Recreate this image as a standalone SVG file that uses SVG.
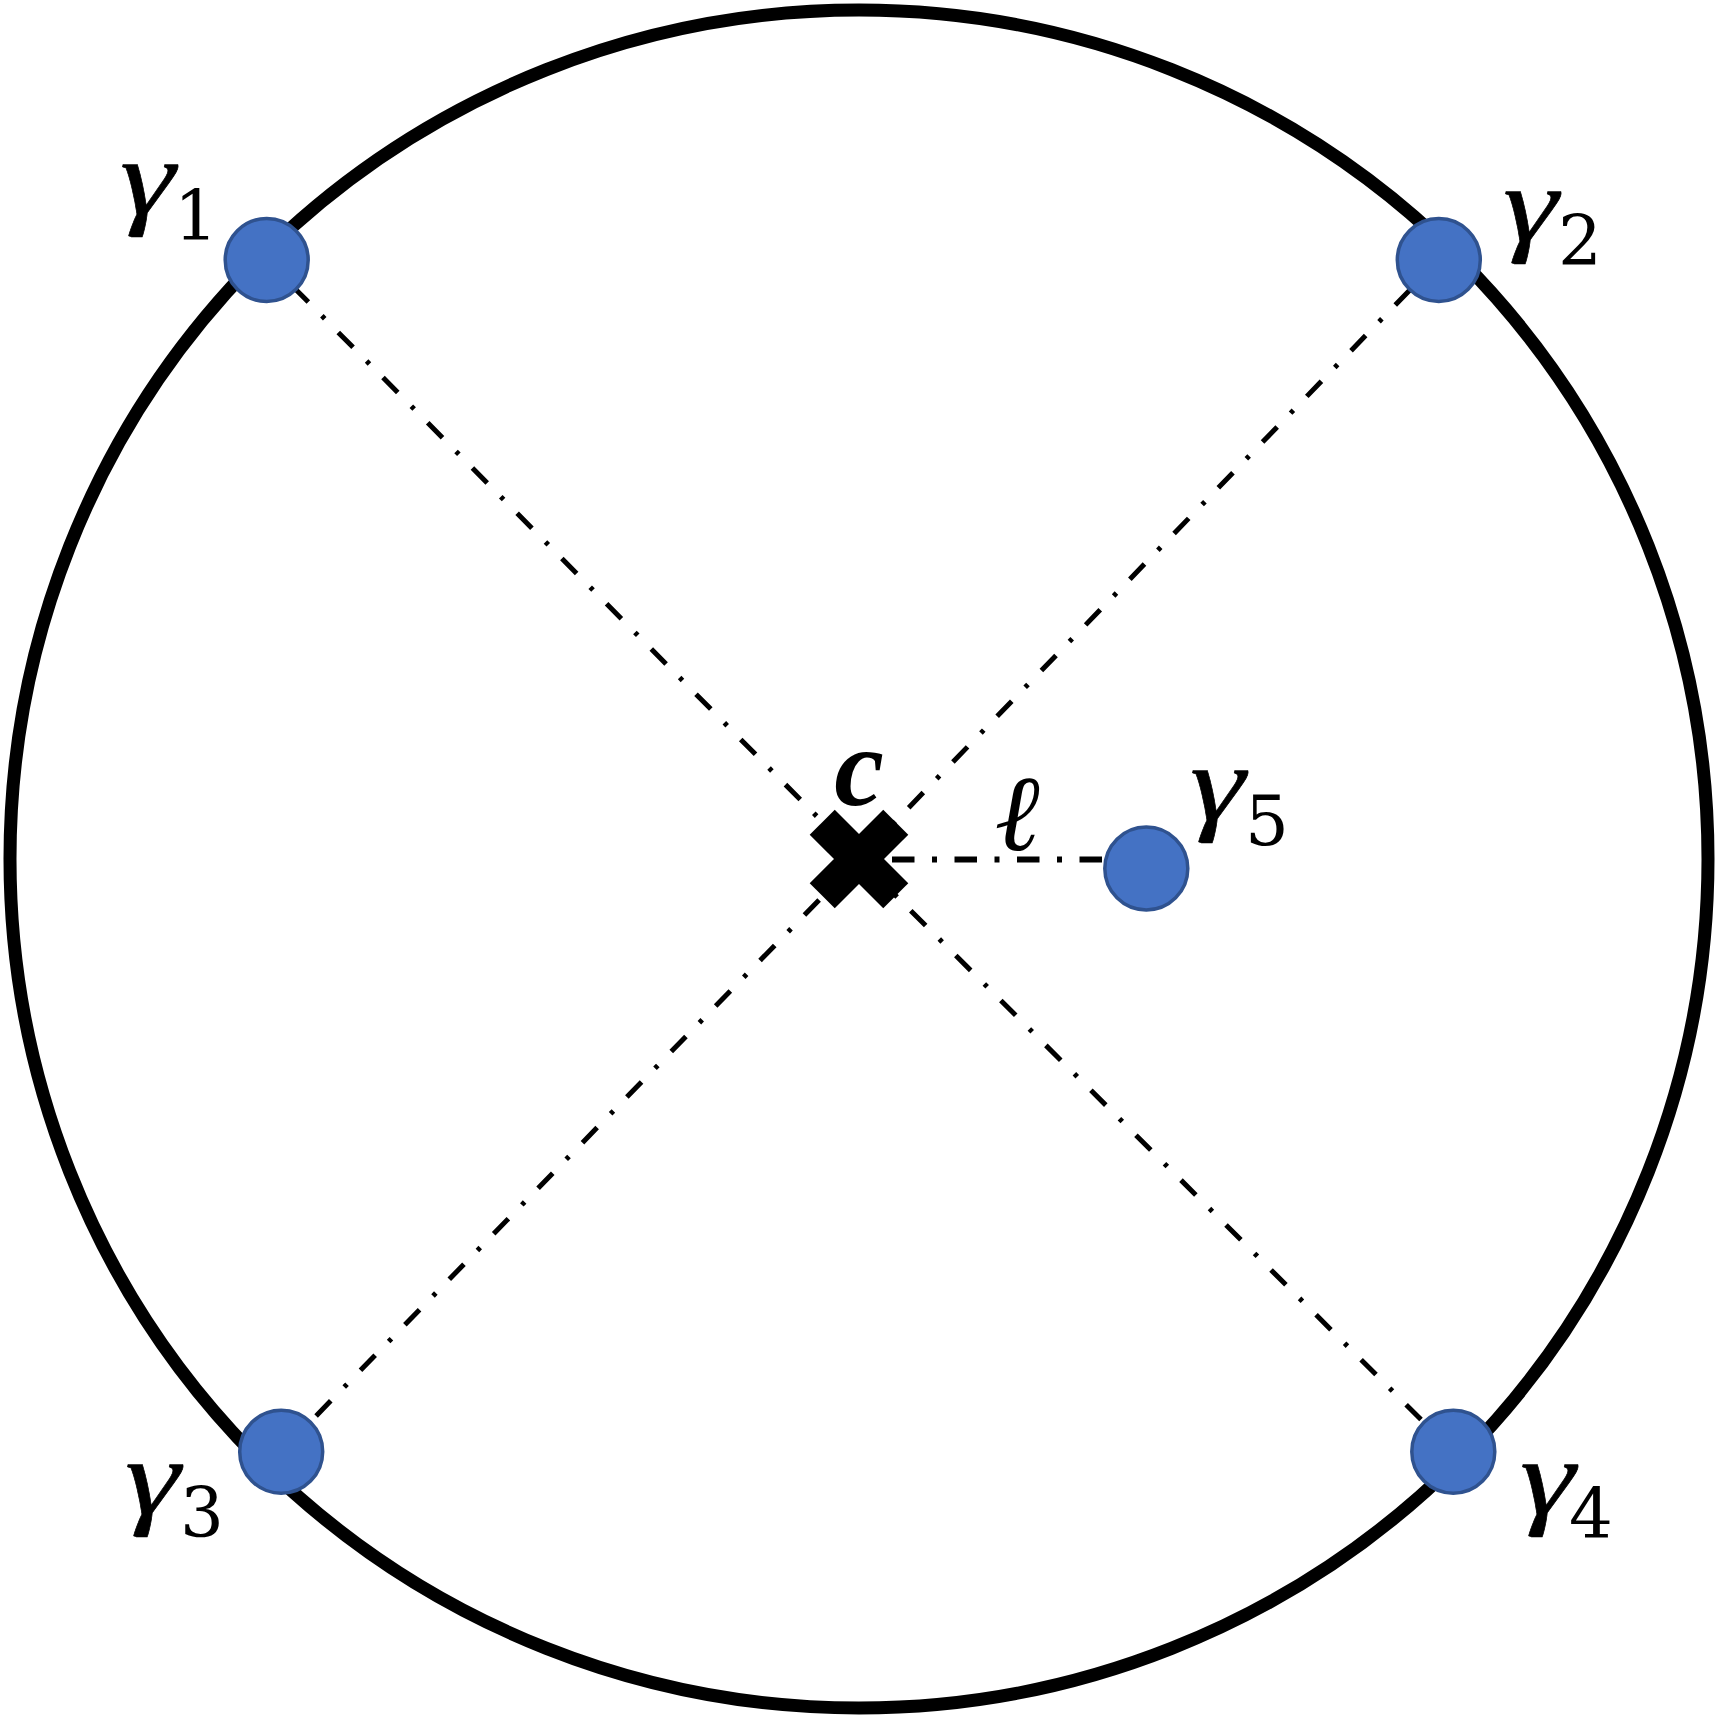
<svg xmlns="http://www.w3.org/2000/svg" width="1718" height="1718" viewBox="0 0 1718 1718">
<style>
.node{fill:#4472C4;stroke:#2F528F;stroke-width:3.5}
.conn{stroke:#000;stroke-width:5;fill:none;stroke-dasharray:21 19.3 4 19.3}
.lbl{font-family:"Liberation Serif","DejaVu Serif",serif;fill:#000}
.g{font-size:108px;font-style:italic;stroke:#000;stroke-width:0.6}
.s{font-family:"DejaVu Serif",serif;font-size:69px}
</style>
<rect width="1718" height="1718" fill="#fff"/>
<circle cx="859" cy="859" r="849" fill="none" stroke="#000" stroke-width="13"/>
<g id="connectors">
<line class="conn" x1="266.7" y1="260" x2="859" y2="859" stroke-dashoffset="25.4"/>
<line class="conn" x1="1438.8" y1="260" x2="859" y2="859" stroke-dashoffset="22"/>
<line class="conn" x1="281.2" y1="1451.7" x2="859" y2="859" stroke-dashoffset="13.6"/>
<line class="conn" x1="1453.3" y1="1451.7" x2="859" y2="859" stroke-dashoffset="18"/>
<line x1="892" y1="859.5" x2="1104" y2="859.5" stroke="#000" stroke-width="6" stroke-dasharray="22.5 17.5 5 17.5"/>
</g>
<g id="center-c">
<g transform="translate(859 859)">
<rect x="-52" y="-17.7" width="104" height="35.4" transform="rotate(45)" fill="#000"/>
<rect x="-52" y="-17.7" width="104" height="35.4" transform="rotate(-45)" fill="#000"/>
</g>
<text class="lbl" x="859" y="805" font-size="112" font-weight="bold" font-style="italic" text-anchor="middle">c</text>
</g>
<g id="label-l"><text class="lbl" x="1017" y="850" font-size="108" font-style="italic" text-anchor="middle">ℓ</text></g>
<g id="gamma1">
<circle class="node" cx="266.7" cy="260" r="41.5"/>
<text class="lbl g" x="120" y="214" textLength="55" lengthAdjust="spacingAndGlyphs">γ</text><text class="lbl s" x="174" y="240">1</text>
</g>
<g id="gamma2">
<circle class="node" cx="1438.8" cy="260" r="41.5"/>
<text class="lbl g" x="1503" y="241" textLength="55" lengthAdjust="spacingAndGlyphs">γ</text><text class="lbl s" x="1558" y="265">2</text>
</g>
<g id="gamma3">
<circle class="node" cx="281.2" cy="1451.7" r="41.5"/>
<text class="lbl g" x="125" y="1514" textLength="55" lengthAdjust="spacingAndGlyphs">γ</text><text class="lbl s" x="180" y="1537">3</text>
</g>
<g id="gamma4">
<circle class="node" cx="1453.3" cy="1451.7" r="41.5"/>
<text class="lbl g" x="1520" y="1514" textLength="55" lengthAdjust="spacingAndGlyphs">γ</text><text class="lbl s" x="1569" y="1538">4</text>
</g>
<g id="gamma5">
<circle class="node" cx="1146.3" cy="868.5" r="41.5"/>
<text class="lbl g" x="1190" y="820" textLength="55" lengthAdjust="spacingAndGlyphs">γ</text><text class="lbl s" x="1245" y="845">5</text>
</g>
</svg>
